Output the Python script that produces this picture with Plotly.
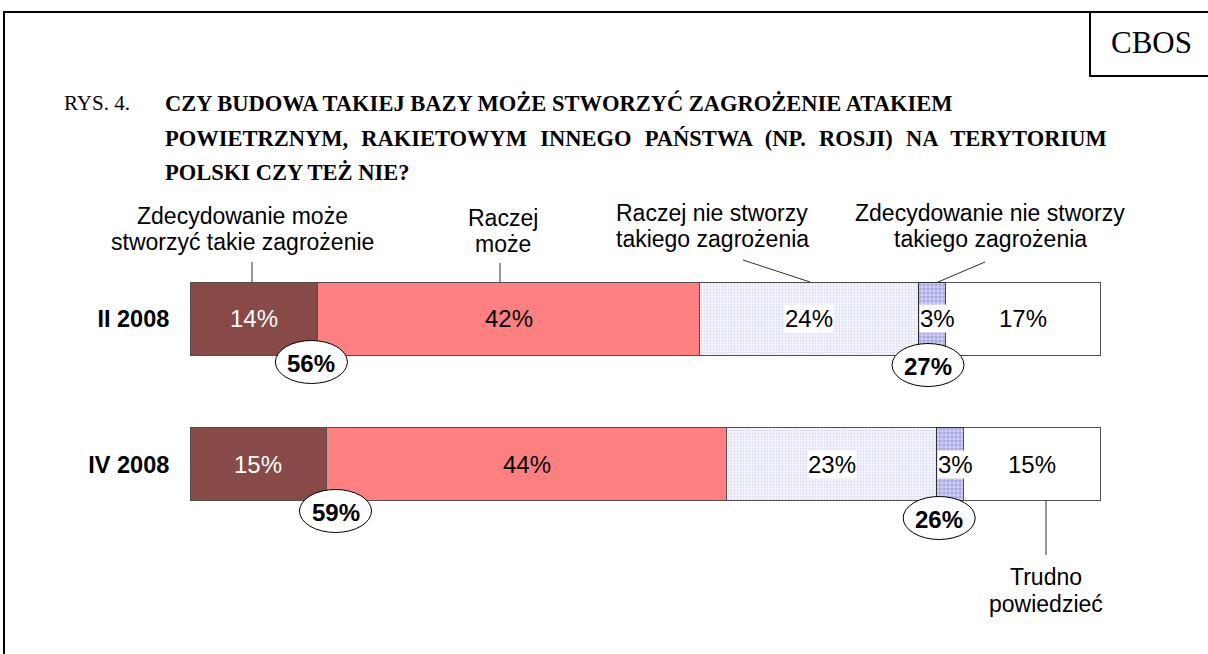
import plotly.graph_objects as go

# data
categories = ["II 2008", "IV 2008"]
zdec_moze = [14, 15]
raczej_moze = [42, 44]
raczej_nie = [24, 23]
zdec_nie = [3, 3]
trudno = [17, 15]
razem_moze = [56, 59]
razem_nie = [27, 26]

series_names = [
    "Zdecydowanie może stworzyć takie zagrożenie",
    "Raczej może",
    "Raczej nie stworzy takiego zagrożenia",
    "Zdecydowanie nie stworzy takiego zagrożenia",
    "Trudno powiedzieć",
]
title_lines = [
    "CZY BUDOWA TAKIEJ BAZY MOŻE STWORZYĆ ZAGROŻENIE ATAKIEM",
    "POWIETRZNYM, RAKIETOWYM INNEGO PAŃSTWA (NP. ROSJI) NA TERYTORIUM",
    "POLSKI CZY TEŻ NIE?",
]

W, H = 1208, 654
PL, PR, PT, PB = 190, 1104, 231, 552
SCALE = 9.1  # px per percent
XMAX = (PR - PL) / SCALE
SANS = "Arial, Liberation Sans, sans-serif"
SERIF = "Times New Roman, Liberation Serif, serif"


def xp(px):
    return (px - PL) / (PR - PL)


def yp(py):
    return (PB - py) / (PB - PT)


def x_px(v):
    return PL + v * SCALE


def y_px(i):
    return 318.5 + i * 146


def label(px, py, text, font, **kw):
    d = dict(x=xp(px), y=yp(py), xref="paper", yref="paper", text=text,
             showarrow=False, xanchor="center", yanchor="middle", font=font)
    d.update(kw)
    return d


series = [zdec_moze, raczej_moze, raczej_nie, zdec_nie, trudno]
markers = [
    dict(color="#884A48", line=dict(color="#505050", width=1)),
    dict(color="#FF8080", line=dict(color="#505050", width=1)),
    dict(color="#FFFFFF", line=dict(color="#505050", width=1),
         pattern=dict(shape=".", fgcolor="#B8B8F0", bgcolor="#F6F6FF", size=3, solidity=0.35)),
    dict(color="#FFFFFF", line=dict(color="#303030", width=1),
         pattern=dict(shape="+", fgcolor="#4848A8", bgcolor="#D0D0F8", size=4, solidity=0.3)),
    dict(color="#FFFFFF", line=dict(color="#505050", width=1)),
]

fig = go.Figure()
for name, vals, mk in zip(series_names, series, markers):
    fig.add_trace(go.Bar(y=categories, x=vals, name=name, orientation="h",
                         width=0.5, marker=mk, showlegend=False, cliponaxis=False))

annotations = []
shapes = []

# in-bar labels
for i in range(len(categories)):
    left = 0
    for k, vals in enumerate(series):
        mid = left + vals[i] / 2
        left += vals[i]
        a = dict(x=mid, y=i, xref="x", yref="y", text=f"{vals[i]}%", showarrow=False,
                 xanchor="center", yanchor="middle",
                 font=dict(family=SANS, size=24, color="white" if k == 0 else "black"))
        if k == 3:
            a["x"] = mid + 0.6
        if k in (2, 3):
            a["bgcolor"] = "white"
            a["borderpad"] = 0
        annotations.append(a)

# ellipses with totals
for i in range(len(categories)):
    b1 = x_px(zdec_moze[i])
    b2 = x_px(zdec_moze[i] + raczej_moze[i] + raczej_nie[i])
    cy = y_px(i) + 36.5
    for cx, val, dy in [(b1 - 6 + 15 * i, razem_moze[i], 7 + 3 * i),
                        (b2 + 10 - 7 * i, razem_nie[i], 10 + 7 * i)]:
        yc = cy + dy
        shapes.append(dict(type="circle", xref="paper", yref="paper",
                           x0=xp(cx - 36), x1=xp(cx + 36), y0=yp(yc + 21.5), y1=yp(yc - 21.5),
                           fillcolor="white", line=dict(color="black", width=1)))
        annotations.append(label(cx, yc + 1, f"<b>{val}%</b>",
                                 dict(family=SANS, size=24, color="black")))

# category labels (one annotation per line)
cat_labels = [
    (242, ["Zdecydowanie może", "stworzyć takie zagrożenie"], 216),
    (503, ["Raczej", "może"], 218),
    (712, ["Raczej nie stworzy", "takiego zagrożenia"], 213),
    (990, ["Zdecydowanie nie stworzy", "takiego zagrożenia"], 213),
    (1046, ["Trudno", "powiedzieć"], 577),
]
for cx, lines, y0 in cat_labels:
    for j, t in enumerate(lines):
        annotations.append(label(cx, y0 + 26.5 * j, t, dict(family=SANS, size=23, color="black")))

# leader lines
leaders = [((252, 262), (252, 282)), ((500, 263), (500, 282)),
           ((743, 260), (810, 282)), ((985, 262), (938, 282)),
           ((1046, 501), (1046, 555))]
for (x0, y0), (x1, y1) in leaders:
    shapes.append(dict(type="line", xref="paper", yref="paper",
                       x0=xp(x0), y0=yp(y0), x1=xp(x1), y1=yp(y1),
                       line=dict(color="#303030", width=1)))

# frame and CBOS box
shapes.append(dict(type="rect", xref="paper", yref="paper",
                   x0=xp(4), x1=xp(1215), y0=yp(12), y1=yp(665),
                   line=dict(color="black", width=2), fillcolor="rgba(0,0,0,0)"))
shapes.append(dict(type="rect", xref="paper", yref="paper",
                   x0=xp(1090), x1=xp(1215), y0=yp(12), y1=yp(76),
                   line=dict(color="black", width=2), fillcolor="rgba(0,0,0,0)"))
annotations.append(label(1151, 43, "CBOS", dict(family=SERIF, size=31, color="black")))

# title (middle line is justified in the original, so its word gaps are wider)
title_y = [103, 138, 172]
annotations.append(label(62, title_y[0], "RYS. 4.", dict(family=SERIF, size=21, color="black"),
                         xanchor="left"))
for j, (t, ty) in enumerate(zip(title_lines, title_y)):
    if j == 1:
        t = t.replace(" ", " \u2004")
    annotations.append(label(163, ty, f"<b>{t}</b>", dict(family=SERIF, size=22.5, color="black"),
                             xanchor="left"))

fig.update_layout(
    width=W, height=H,
    margin=dict(l=PL, r=W - PR, t=PT, b=H - PB),
    barmode="stack",
    plot_bgcolor="white", paper_bgcolor="white",
    xaxis=dict(range=[0, XMAX], visible=False, fixedrange=True),
    yaxis=dict(range=[1.6, -0.6], type="category", showgrid=False, zeroline=False,
               showline=False, ticks="outside", ticklen=15, tickcolor="rgba(0,0,0,0)",
               tickfont=dict(family=SANS, size=23.5, color="black"),
               tickvals=categories, ticktext=[f"<b>{c}</b>" for c in categories]),
    annotations=annotations,
    shapes=shapes,
)

fig.write_html("out.html", config={"displayModeBar": False},
               post_script="document.body.style.margin='0';")
